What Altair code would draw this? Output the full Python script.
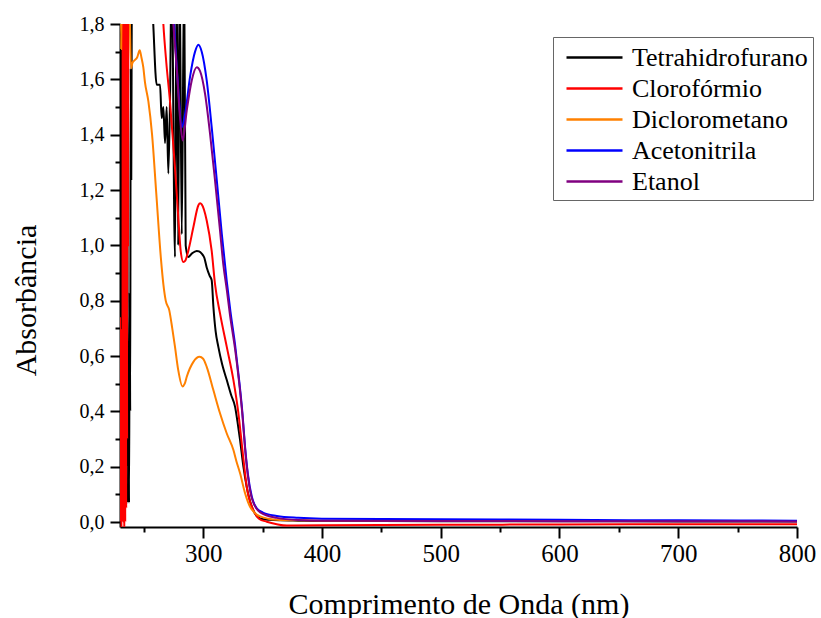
import altair as alt
import pandas as pd

SERIES = ["Tetrahidrofurano", "Clorofórmio", "Diclorometano", "Acetonitrila", "Etanol"]
COLORS = ["#000000", "#FF0000", "#FF8000", "#0000FF", "#800080"]

thf_x = [230.0, 230.5, 231.0, 231.5, 232.0, 232.5, 233.0, 233.5, 234.0, 234.5, 235.0, 235.5, 236.0, 236.6,
         237.2, 237.6, 238.2, 238.6, 239.0, 239.5, 240.2, 245.0, 252.0, 258.0, 260.9, 263.7, 265.1, 266.5,
         267.9, 269.3, 270.7, 272.1, 273.5, 276.3, 277.7, 279.0, 280.2, 282.0, 284.0, 285.3, 287.5, 290.4,
         294.6, 296.5, 298.8, 301.0, 303.0, 305.5, 307.2, 308.6, 310.5, 312.8, 316.0, 319.9, 323.5, 326.9,
         329.0, 331.1, 333.9, 336.7, 341.0, 348.0, 356.0, 365.0, 380.0, 400.0, 450.0, 500.0, 600.0, 700.0, 800.0]
thf_y = [2.3, 1.24, 2.4, 0.0, 2.2, 0.27, 0.91, 0.3, 2.2, 0.56, 2.0, 0.2, 2.3, 0.07,
         0.48, 0.07, 0.83, 0.4, 1.64, 1.24, 2.3, 2.6, 2.5, 1.8, 1.58, 1.58, 1.46, 1.50,
         1.37, 1.50, 1.26, 1.52, 2.0, 0.958, 2.0, 1.0, 2.0, 1.04, 2.0, 1.0, 0.958, 0.97,
         0.98, 0.978, 0.97, 0.955, 0.92, 0.89, 0.874, 0.78, 0.69, 0.633, 0.57, 0.513, 0.46, 0.416,
         0.36, 0.296, 0.2, 0.127, 0.055, 0.013, 0.008, 0.006, 0.005, 0.004, 0.004, 0.003, 0.003, 0.002, 0.002]

clo_x = [230.0, 230.4, 230.8, 231.2, 231.6, 232.0, 232.4, 232.8, 233.2, 233.6, 234.0, 234.4, 234.8, 235.2,
         235.6, 236.0, 236.4, 236.8, 237.2, 240.0, 250.0, 260.0, 266.5, 269.0, 272.1, 276.3, 279.1, 281.1,
         283.3, 285.0, 287.5, 291.8, 296.0, 297.5, 298.8, 303.0, 307.2, 310.0, 314.2, 319.9, 325.5, 329.7,
         333.4, 336.7, 342.3, 347.0, 353.6, 362.0, 370.4, 400.0, 500.0, 600.0, 700.0, 800.0]
clo_y = [0.74, 0.0, 0.6, -0.02, 0.7, 0.0, 2.5, 0.0, 2.5, -0.02, 2.5, 0.0, 2.5, 0.05,
         2.5, 0.3, 2.5, 1.0, 2.5, 2.7, 2.9, 2.5, 1.8, 1.66, 1.52, 1.28, 1.10, 0.98,
         0.94, 0.945, 0.98, 1.066, 1.145, 1.152, 1.148, 1.09, 0.98, 0.86, 0.754, 0.633, 0.513, 0.393,
         0.248, 0.127, 0.043, 0.012, 0.001, -0.008, -0.013, -0.012, -0.01, -0.009, -0.008, -0.008]

dcm_x = [230.0, 231.0, 232.0, 236.5, 238.0, 239.3, 240.5, 242.6, 244.5, 246.6, 248.0, 249.6, 251.0, 253.9,
         257.0, 260.5, 264.5, 266.5, 268.5, 271.5, 274.0, 276.3, 279.0, 282.6, 284.5, 286.2, 291.8, 297.0,
         300.0, 303.0, 308.6, 314.2, 319.9, 325.5, 328.0, 331.1, 335.3, 339.5, 343.0, 348.0, 355.0, 362.0,
         380.0, 400.0, 500.0, 600.0, 700.0, 800.0]
dcm_y = [2.2, 1.71, 2.2, 2.3, 1.9, 1.64, 1.66, 1.67, 1.68, 1.705, 1.68, 1.644, 1.59, 1.52,
         1.40, 1.19, 0.95, 0.86, 0.80, 0.765, 0.70, 0.633, 0.55, 0.49, 0.50, 0.525, 0.579, 0.597,
         0.59, 0.561, 0.477, 0.393, 0.32, 0.26, 0.22, 0.176, 0.104, 0.055, 0.035, 0.02, 0.012, 0.008,
         0.006, 0.005, 0.005, 0.004, 0.004, 0.004]

ace_x = [230.0, 250.0, 265.0, 272.0, 275.5, 279.3, 282.0, 284.8, 289.0, 293.2, 296.0, 298.8, 303.0, 307.2,
         311.5, 315.7, 319.9, 323.0, 326.9, 330.3, 333.1, 335.3, 337.6, 341.0, 345.0, 350.0, 362.0, 380.0,
         400.0, 500.0, 600.0, 700.0, 800.0]
ace_y = [2.8, 3.0, 2.6, 2.0, 1.8, 1.55, 1.427, 1.475, 1.61, 1.70, 1.725, 1.70, 1.596, 1.427,
         1.235, 1.042, 0.87, 0.76, 0.64, 0.513, 0.393, 0.272, 0.176, 0.091, 0.05, 0.035, 0.022, 0.015,
         0.012, 0.010, 0.008, 0.006, 0.005]

eta_x = [230.0, 250.0, 265.0, 272.0, 274.9, 277.7, 280.5, 282.8, 286.2, 290.4, 294.6, 297.4, 301.6, 305.8,
         310.0, 314.2, 317.0, 319.9, 322.7, 326.9, 330.3, 333.1, 335.3, 337.6, 341.0, 348.0, 362.0, 380.0,
         400.0, 500.0, 600.0, 700.0, 800.0]
eta_y = [2.7, 2.9, 2.5, 2.0, 1.8, 1.644, 1.463, 1.379, 1.487, 1.596, 1.644, 1.63, 1.548, 1.404,
         1.235, 1.054, 0.93, 0.84, 0.745, 0.625, 0.505, 0.385, 0.265, 0.17, 0.085, 0.035, 0.015, 0.007,
         0.005, 0.004, 0.003, 0.003, 0.002]

X_TICKS = [250, 300, 350, 400, 450, 500, 550, 600, 650, 700, 750, 800]
Y_TICKS = [round(i * 0.1, 1) for i in range(0, 19)]

rows = []
for name, xs, ys in zip(SERIES, [thf_x, clo_x, dcm_x, ace_x, eta_x], [thf_y, clo_y, dcm_y, ace_y, eta_y]):
    for i, (a, b) in enumerate(zip(xs, ys)):
        rows.append({"serie": name, "wl": a, "abs": b, "i": i})
df = pd.DataFrame(rows)

FONT = "'Liberation Serif', 'Times New Roman', Times, serif"

chart = alt.Chart(df).mark_line(clip=True, strokeWidth=2, interpolate="monotone").encode(
    x=alt.X("wl:Q",
            scale=alt.Scale(domain=[230, 800], nice=False, zero=False),
            axis=alt.Axis(values=X_TICKS,
                          labelExpr="datum.value % 100 === 0 ? datum.value : ''",
                          tickSize={"condition": {"test": "datum.value % 100 === 0", "value": 11}, "value": 5},
                          title="Comprimento de Onda (nm)",
                          labelFont=FONT, titleFont=FONT,
                          labelFlush=False, labelPadding=3, labelFontSize=25,
                          titleY=86, titleBaseline="alphabetic")),
    y=alt.Y("abs:Q",
            scale=alt.Scale(domain=[-0.018, 1.8], nice=False, zero=False),
            axis=alt.Axis(values=Y_TICKS,
                          labelExpr="round(datum.value*10) % 2 === 0 ? replace(format(datum.value, '.1f'), '.', ',') : ''",
                          tickSize={"condition": {"test": "round(datum.value*10) % 2 === 0", "value": 10}, "value": 5},
                          title="Absorbância",
                          labelFont=FONT, titleFont=FONT,
                          labelFlush=False, labelPadding=6, labelFontSize=20,
                          titleX=-85, titleY=276, titleBaseline="alphabetic")),
    color=alt.Color("serie:N",
                    scale=alt.Scale(domain=SERIES, range=COLORS),
                    legend=alt.Legend(title=None, orient="none", legendX=433, legendY=13,
                                      strokeColor="#666666", fillColor="white", padding=5,
                                      symbolType="M-0.5,0H3.5", symbolSize=784, symbolStrokeWidth=2.5,
                                      labelOffset=43, labelFontSize=26, labelFont=FONT, labelLimit=0,
                                      labelColor="black", rowPadding=2)),
    detail="serie:N",
    order="i:Q",
).properties(
    width=677, height=503,
    autosize=alt.AutoSizeParams(type="none"),
    padding={"left": 120, "top": 24, "right": 24, "bottom": 91},
    background="white",
).configure(font=FONT).configure_view(stroke=None).configure_axis(
    grid=False, domainColor="black", domainWidth=2, tickColor="black", tickWidth=2,
    labelFont=FONT, labelColor="black", titleFont=FONT, titleFontSize=30,
    titleFontWeight="normal", titleColor="black",
)

chart.save("out.html", embed_options={"renderer": "svg", "actions": False})
